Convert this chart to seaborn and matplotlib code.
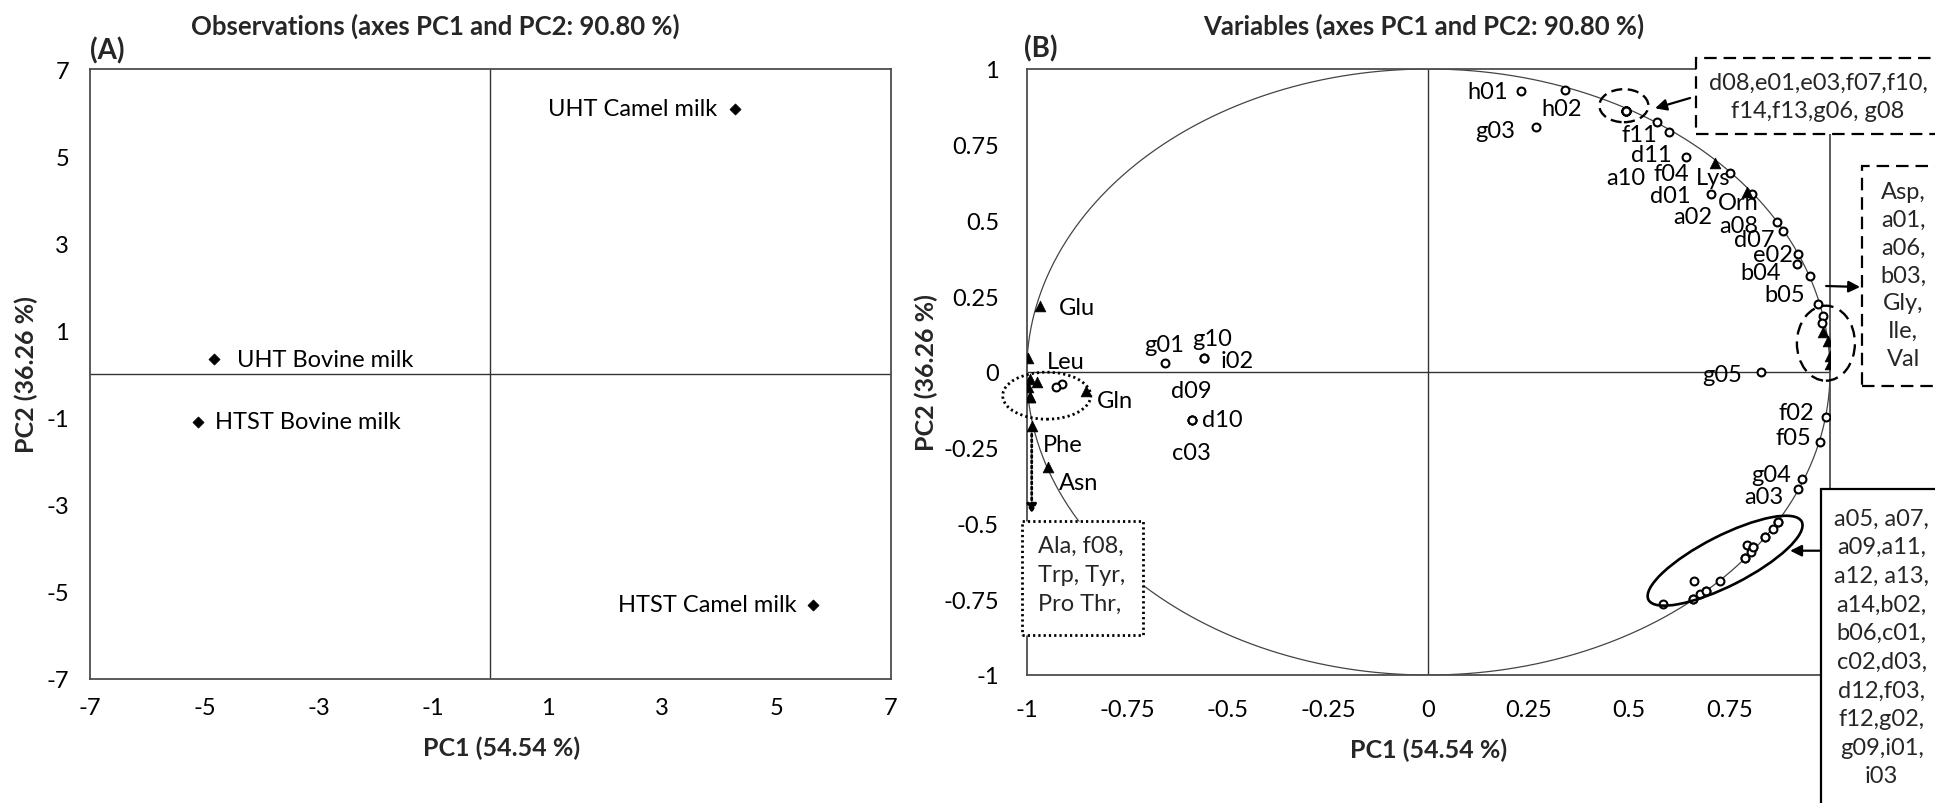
import numpy as np
import pandas as pd
import matplotlib
matplotlib.use("Agg")
import matplotlib.pyplot as plt
import seaborn as sns
from matplotlib.patches import Rectangle, Ellipse
from matplotlib.transforms import ScaledTranslation

# ---------------- data ----------------
obs_names = ["UHT Camel milk", "UHT Bovine milk", "HTST Bovine milk", "HTST Camel milk"]
obs_pc1 = [4.27, -4.84, -5.11, 5.64]
obs_pc2 = [6.09, 0.34, -1.10, -5.30]

var_names = ["h01", "h02", "g03",
             "d08", "e01", "e03", "f07", "f10", "f14", "f13", "g06", "g08",
             "f11", "d11", "a10", "f04", "d01", "a02", "a08", "d07", "e02", "b04", "b05",
             "a01", "a06", "b03",
             "g05", "f02", "f05", "g04", "a03",
             "a05", "a07", "a09", "a11", "a12", "a13", "a14", "b02", "b06", "c01",
             "c02", "d03", "d12", "f03", "f12", "g02", "g09", "i01", "i03",
             "g01", "g10", "i02", "d09", "d10", "c03", "f08", "f08",
             "Lys", "Orn", "Asp", "Gly", "Ile", "Val",
             "Glu", "Leu", "Ala", "Trp", "Tyr", "Pro", "Thr", "Gln", "Phe", "Asn"]
var_pc1 = [0.230, 0.340, 0.267,
           0.492, 0.492, 0.492, 0.492, 0.492, 0.492, 0.492, 0.492, 0.492,
           0.569, 0.599, 0.641, 0.750, 0.703, 0.807, 0.868, 0.882, 0.920, 0.917, 0.949,
           0.971, 0.982, 0.980,
           0.828, 0.990, 0.974, 0.930, 0.921,
           0.871, 0.857, 0.838, 0.793, 0.808, 0.804, 0.789, 0.726, 0.662, 0.692,
           0.677, 0.660, 0.585, 0.871, 0.838, 0.808, 0.789, 0.692, 0.660,
           -0.656, -0.558, -0.558, -0.589, -0.589, -0.589, -0.913, -0.926,
           0.714, 0.793, 0.982, 0.996, 1.000, 1.000,
           -0.967, -0.998, -0.993, -0.975, -0.996, -0.993, -0.993, -0.852, -0.986, -0.946]
var_pc2 = [0.926, 0.932, 0.808,
           0.862, 0.862, 0.862, 0.862, 0.862, 0.862, 0.862, 0.862, 0.862,
           0.824, 0.791, 0.709, 0.657, 0.587, 0.587, 0.494, 0.466, 0.389, 0.356, 0.316,
           0.224, 0.186, 0.162,
           -0.001, -0.150, -0.230, -0.353, -0.386,
           -0.494, -0.518, -0.545, -0.571, -0.579, -0.593, -0.615, -0.689, -0.689, -0.722,
           -0.733, -0.749, -0.766, -0.494, -0.545, -0.579, -0.615, -0.722, -0.749,
           0.030, 0.046, 0.046, -0.157, -0.157, -0.157, -0.040, -0.050,
           0.690, 0.593, 0.131, 0.103, 0.054, 0.026,
           0.219, 0.045, -0.023, -0.032, -0.050, -0.083, -0.083, -0.062, -0.177, -0.315]
var_kind = ["volatile"] * 58 + ["amino acid"] * 16

group_top = "d08,e01,e03,f07,f10,\nf14,f13,g06, g08"
group_right = "Asp,\na01,\na06,\nb03,\nGly,\nIle,\nVal"
group_bottom = "a05, a07,\na09,a11,\na12, a13,\na14,b02,\nb06,c01,\nc02,d03,\nd12,f03,\nf12,g02,\ng09,i01,\ni03"
group_left = "Ala, f08,\nTrp, Tyr,\nPro Thr,"

# ---------------- layout (pixels) ----------------
W, H, DPI = 1935, 804, 100
# label offsets (dx, dy) in pixels from the marker, for labelled variables
var_label_offsets = {
    "h01": (-33, 0), "h02": (-3, -19), "g03": (-40, -3), "f11": (-18, -12),
    "d11": (-18, -22), "a10": (-60, -20), "f04": (-58, -1), "Lys": (-2, -15),
    "d01": (-40, -1), "a02": (-60, -22), "Orn": (-9, -10), "a08": (-38, -3),
    "d07": (-28, -9), "e02": (-25, 0), "b04": (-36, -8), "b05": (-25, -18),
    "g05": (-39, -2), "f02": (-30, 5), "f05": (-26, 4), "g04": (-31, 4),
    "a03": (-34, -8), "Glu": (37, -2), "Leu": (38, -3), "Gln": (29, -10),
    "Phe": (30, -19), "Asn": (30, -15), "g01": (-1, 18), "g10": (8, 20),
    "i02": (33, -2), "d09": (0, 29), "d10": (31, 0), "c03": (0, -33),
}
obs_label_offsets = {"UHT Camel milk": (-17, "right"), "UHT Bovine milk": (23, "left"),
                     "HTST Bovine milk": (17, "left"), "HTST Camel milk": (-16, "right")}

sns.set_theme(style="white")
plt.rcParams['font.family'] = ['Lato', 'DejaVu Sans']
plt.rcParams['lines.scale_dashes'] = False
plt.rcParams['axes.unicode_minus'] = False

fig = plt.figure(figsize=(W / DPI, H / DPI), dpi=DPI)


def ax_rect(l, t, r, b):
    return [l / W, 1 - b / H, (r - l) / W, (b - t) / H]


axA = fig.add_axes(ax_rect(90, 70, 890.7, 680))
axB = fig.add_axes(ax_rect(1026.7, 70, 1830, 676))

FS = 17
LFS = 18
SPINE_C = "#4d4d4d"

# ---------------- Panel A ----------------
dfA = pd.DataFrame({"obs": obs_names, "PC1": obs_pc1, "PC2": obs_pc2})
axA.axhline(0, color="#333333", lw=1.0, zorder=1)
axA.axvline(0, color="#333333", lw=1.0, zorder=1)
sns.scatterplot(data=dfA, x="PC1", y="PC2", marker="D", s=32, color="black",
                edgecolor="black", linewidth=0.5, ax=axA, zorder=3, legend=False)
for name, x, y in zip(obs_names, obs_pc1, obs_pc2):
    dx, ha = obs_label_offsets[name]
    axA.annotate(name, (x, y), xytext=(dx, 0), textcoords="offset pixels",
                 ha=ha, va="center", fontsize=FS, color="black")
axA.set_xlim(-7, 7)
axA.set_ylim(-7, 7)
axA.set_xticks(np.arange(-7, 8, 2))
axA.set_yticks(np.arange(-7, 8, 2))
axA.tick_params(axis="both", length=0, labelsize=FS, colors="black")
axA.tick_params(axis="y", pad=15)
axA.tick_params(axis="x", pad=13)
axA.set_xlabel("PC1 (54.54 %)", fontsize=LFS, fontweight="bold")
axA.set_ylabel("PC2 (36.26 %)", fontsize=LFS, fontweight="bold")
axA.xaxis.set_label_coords(0.5 + (502 - 490.3) / 800.7, (680 - 748) / 610)
axA.xaxis.label.set_va("center")
axA.yaxis.set_label_coords((26 - 90) / 800.7, 0.5)
axA.yaxis.label.set_va("center")
for sp in axA.spines.values():
    sp.set_color(SPINE_C)
    sp.set_linewidth(1.3)

# ---------------- Panel B ----------------
dfB = pd.DataFrame({"name": var_names, "PC1": var_pc1, "PC2": var_pc2, "kind": var_kind})
axB.axhline(0, color="#333333", lw=1.0, zorder=1)
axB.axvline(0, color="#333333", lw=1.0, zorder=1)
t = np.linspace(0, 2 * np.pi, 500)
axB.plot(np.cos(t), np.sin(t), color="#444444", lw=0.9, zorder=1.5)

vol = dfB[dfB["kind"] == "volatile"]
ami = dfB[dfB["kind"] == "amino acid"]
sns.scatterplot(data=vol, x="PC1", y="PC2", marker="o", s=32, facecolor="white",
                edgecolor="black", linewidth=1.5, ax=axB, zorder=4, legend=False)
sns.scatterplot(data=ami, x="PC1", y="PC2", marker="^", s=60, color="black",
                edgecolor="black", linewidth=0.5, ax=axB, zorder=4, legend=False)

for name, x, y in zip(var_names, var_pc1, var_pc2):
    if name in var_label_offsets:
        dx, dy = var_label_offsets[name]
        axB.annotate(name, (x, y), xytext=(dx, dy), textcoords="offset pixels",
                     ha="center", va="center", fontsize=FS, color="black", zorder=5)


def bx(px):
    return (px - 1428.3) / 401.6


def by(py):
    return (373 - py) / 303


def px_ellipse(ax, cx, cy, wpx, hpx, angle=0, **kw):
    tr = fig.dpi_scale_trans + ScaledTranslation(cx, cy, ax.transData)
    e = Ellipse((0, 0), wpx / DPI, hpx / DPI, angle=angle, transform=tr,
                fill=False, clip_on=False, **kw)
    ax.add_patch(e)


# group ellipses
px_ellipse(axB, bx(1623.8), by(106.7), 49, 33, 0, edgecolor="black", lw=1.7,
           linestyle=(0, (8, 4)), zorder=6)
px_ellipse(axB, bx(1825.8), by(344.2), 58, 75, 0, edgecolor="black", lw=1.7,
           linestyle=(0, (9, 5)), zorder=6)
px_ellipse(axB, bx(1046.7), by(396.7), 88, 47, 0, edgecolor="black", lw=2.0,
           linestyle=(0, (1.6, 2.2)), zorder=6)
px_ellipse(axB, bx(1725), by(561.7), 172, 50, 27, edgecolor="black", lw=1.9,
           linestyle="-", zorder=6)

# group boxes
def box(l, t, r, b, ls, lw):
    rect = Rectangle((bx(l), by(b)), bx(r) - bx(l), by(t) - by(b), facecolor="white",
                     edgecolor="black", lw=lw, linestyle=ls, clip_on=False, zorder=7)
    axB.add_patch(rect)


box(1696, 59.3, 1960, 135, (0, (9, 5)), 1.6)
box(1861.7, 166.7, 1960, 386.7, (0, (9, 5)), 1.6)
box(1820.7, 490, 1960, 830, "-", 1.6)
box(1021.7, 522.3, 1142.7, 636, (0, (1.6, 2.2)), 2.0)

axB.text(bx(1818), by(97.5), group_top, ha="center", va="center", fontsize=FS,
         linespacing=1.40, zorder=8, clip_on=False)
axB.text(bx(1903), by(276.2), group_right, ha="center", va="center", fontsize=FS,
         linespacing=1.40, zorder=8, clip_on=False)
axB.text(bx(1881.7), by(648), group_bottom, ha="center", va="center", fontsize=FS,
         linespacing=1.45, zorder=8, clip_on=False)
axB.text(bx(1038.3), by(575.6), group_left, ha="left", va="center", fontsize=FS,
         linespacing=1.46, zorder=8, clip_on=False)

# arrows
arrow_kw = dict(arrowstyle="-|>", color="black", lw=1.6, mutation_scale=17,
                shrinkA=0, shrinkB=0)
axB.annotate("", xy=(bx(1655), by(109.3)), xytext=(bx(1690), by(99)),
             arrowprops=arrow_kw, annotation_clip=False, zorder=8)
axB.annotate("", xy=(bx(1860), by(288)), xytext=(bx(1826), by(287)),
             arrowprops=arrow_kw, annotation_clip=False, zorder=8)
axB.annotate("", xy=(bx(1790), by(551.7)), xytext=(bx(1820.7), by(551.7)),
             arrowprops=arrow_kw, annotation_clip=False, zorder=8)
axB.annotate("", xy=(bx(1031.7), by(515)), xytext=(bx(1031.7), by(430)),
             arrowprops=dict(arrowstyle="-|>", color="black", lw=2.0, mutation_scale=14,
                             linestyle=(0, (1.6, 2.2)), shrinkA=0, shrinkB=0),
             annotation_clip=False, zorder=8)

axB.set_xlim(-1, 1)
axB.set_ylim(-1, 1)
bticks = [-1, -0.75, -0.5, -0.25, 0, 0.25, 0.5, 0.75, 1]
blabels = ["-1", "-0.75", "-0.5", "-0.25", "0", "0.25", "0.5", "0.75", "1"]
axB.set_xticks(bticks)
axB.set_xticklabels(blabels)
axB.set_yticks(bticks)
axB.set_yticklabels(blabels)
axB.tick_params(axis="both", length=0, labelsize=FS, colors="black")
axB.tick_params(axis="y", pad=20)
axB.tick_params(axis="x", pad=17)
axB.set_xlabel("PC1 (54.54 %)", fontsize=LFS, fontweight="bold")
axB.set_ylabel("PC2 (36.26 %)", fontsize=LFS, fontweight="bold")
axB.xaxis.set_label_coords(0.5, (676 - 750) / 606)
axB.xaxis.label.set_va("center")
axB.yaxis.set_label_coords((926 - 1026.7) / 803.3, 0.5)
axB.yaxis.label.set_va("center")
for sp in axB.spines.values():
    sp.set_color(SPINE_C)
    sp.set_linewidth(1.3)

# ---------------- titles ----------------
fig.text(435 / W, 1 - 26 / H, "Observations (axes PC1 and PC2: 90.80 %)", ha="center",
         va="center", fontsize=18.5, fontweight="bold")
fig.text(1424 / W, 1 - 26 / H, "Variables (axes PC1 and PC2: 90.80 %)", ha="center",
         va="center", fontsize=18.5, fontweight="bold")
fig.text(107 / W, 1 - 51 / H, "(A)", ha="center", va="center", fontsize=20, fontweight="bold")
fig.text(1041 / W, 1 - 49 / H, "(B)", ha="center", va="center", fontsize=20, fontweight="bold")

fig.savefig("out.png", dpi=DPI, facecolor="white")
